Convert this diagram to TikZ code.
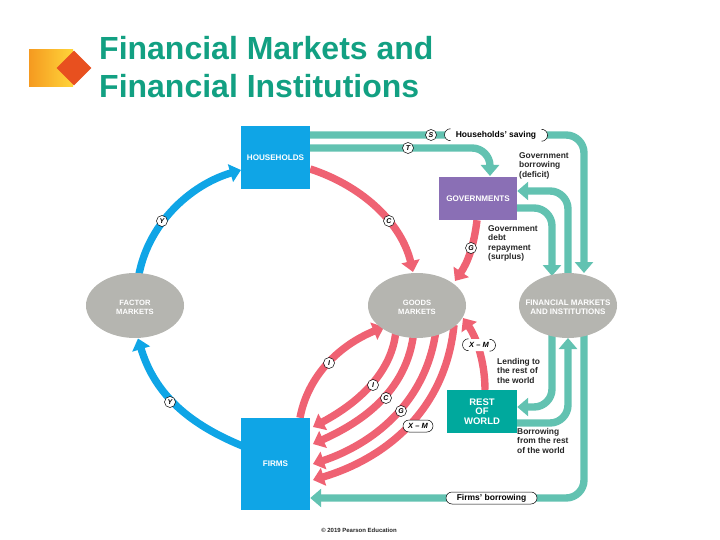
\documentclass[tikz,border=0pt]{standalone}
\usepackage{fontspec}
\setmainfont{Liberation Sans}
\usetikzlibrary{arrows.meta,shapes.geometric,shapes.misc,backgrounds}
\definecolor{tealf}{HTML}{62C2B1}
\definecolor{redf}{HTML}{EF6273}
\definecolor{bluef}{HTML}{0FA5E6}
\definecolor{greyf}{HTML}{B5B5B0}
\definecolor{purpf}{HTML}{8A6FB5}
\definecolor{rowf}{HTML}{00A99D}
\definecolor{titlef}{HTML}{12A082}
\definecolor{logoa}{HTML}{F59A20}
\definecolor{logob}{HTML}{FFD53A}
\definecolor{logoc}{HTML}{E8501F}
\tikzset{
 sector/.style={draw=none,fill=bluef,text=white,font=\bfseries\fontsize{8.1}{9.3}\selectfont,align=center,inner sep=0pt},
 market/.style={ellipse,draw=none,fill=greyf,inner sep=0pt,minimum width=98pt,minimum height=65pt},
 marketname/.style={text=white,font=\bfseries\fontsize{7.6}{9}\selectfont,align=center,inner sep=0pt,yshift=-2pt},
 flow/.style={line width=7.4pt,-{Triangle[width=18pt,length=11pt]}},
 tealflow/.style={flow,draw=tealf,rounded corners=18pt},
 redflow/.style={flow,draw=redf},
 blueflow/.style={flow,draw=bluef},
 tag/.style={circle,draw=black,line width=0.5pt,fill=white,inner sep=0pt,minimum size=11pt,font=\bfseries\itshape\fontsize{7}{7}\selectfont},
 pill/.style={rounded rectangle,draw=black,line width=0.5pt,fill=white,inner sep=0pt,minimum height=12pt,font=\bfseries\fontsize{8.5}{8.5}\selectfont},
 note/.style={anchor=north west,align=left,inner sep=0pt,font=\bfseries\fontsize{8.4}{9.5}\selectfont,text=black!85},
}
\begin{document}
\begin{tikzpicture}[x=1pt,y=-1pt]
\useasboundingbox (0,0) rectangle (720,540);
% logo
\node[draw=none,minimum width=44pt,minimum height=37pt,inner sep=0pt,left color=logoa,right color=logob] (logobox) at (51,68.5) {};
\node[diamond,fill=logoc,minimum width=35pt,minimum height=35pt,inner sep=0pt] (logomark) at (74,68) {};
% title
\node[anchor=north west,align=left,inner sep=0pt,text=titlef,font=\bfseries\fontsize{32}{38.4}\selectfont] (title) at (99,36) {Financial Markets and\\Financial Institutions};
% boxes
\node[sector,minimum width=69pt,minimum height=63pt] (hh) at (275.5,157.5) {HOUSEHOLDS};
\node[sector,minimum width=69pt,minimum height=92pt] (firms) at (275.5,464) {FIRMS};
\node[sector,fill=purpf,minimum width=78pt,minimum height=43pt] (gov) at (478,198.5) {GOVERNMENTS};
\node[sector,fill=rowf,font=\bfseries\fontsize{9.5}{9.4}\selectfont,minimum width=70pt,minimum height=43pt] (row) at (482,411.5) {REST\\OF\\WORLD};
\node[market,label={[marketname]center:FACTOR\\MARKETS}] (factor) at (135,305.5) {};
\node[market,label={[marketname]center:GOODS\\MARKETS}] (goods) at (417,305.5) {};
\node[market,label={[marketname,font=\bfseries\fontsize{8}{9}\selectfont]center:FINANCIAL MARKETS\\AND INSTITUTIONS}] (fin) at (568,305.5) {};
% end points
\coordinate (tipFactor) at (138,338.5);
\coordinate (startFactor) at (138,280);
\coordinate (tipHH) at (241,170);
\coordinate (startFirmsY) at (245,447);
\begin{scope}[on background layer]
 % blue
 \draw[blueflow] (startFactor) .. controls (146,225) and (190,185) .. (tipHH);
 \draw[blueflow] (startFirmsY) .. controls (190,425) and (155,395) .. (tipFactor);
 % household flows
 \coordinate (sEnd) at (584,273);
 \draw[tealflow] (hh.east |- 0,135) -- (584,135) -- (sEnd);
 \draw[tealflow] (hh.east |- 0,148) -- (490,148) -- (490,176);
 \draw[redflow] (hh.east |- 0,169) .. controls (365,187) and (402,225) .. (413,272);
 % government
 \draw[redflow] (gov.south -| 477,0) .. controls (474,245) and (468,262) .. (455,281);
 \draw[tealflow] (fin.north) -- (568,191) -- (gov.east |- 0,191);
 \draw[tealflow] (gov.east |- 0,208) -- (552,208) -- (552,276);
 % firms / goods
 \draw[redflow] (firms.north -| 300,0) .. controls (308,375) and (340,345) .. (384,327);
 \draw[redflow] (396,330) .. controls (392,380) and (345,410) .. (313,427);
 \draw[redflow] (414,330) .. controls (408,395) and (355,425) .. (313,444);
 \draw[redflow] (436,330) .. controls (426,405) and (370,445) .. (313,464);
 \draw[redflow] (454,325) .. controls (445,415) and (380,460) .. (313,480);
 \draw[redflow] (row.north -| 485,0) .. controls (485,365) and (478,340) .. (463,318);
 % row / fin
 \draw[tealflow] (552,330) -- (552,407) -- (row.east |- 0,407);
 \draw[tealflow] (row.east |- 0,423) -- (568,423) -- (568,338);
 \draw[tealflow] (584,330) -- (584,498) -- (firms.east |- 0,498);
\end{scope}
% labels
\node[tag] (ly1) at (162,221) {Y};
\node[tag] (ly2) at (170,402) {Y};
\node[tag] (lc1) at (389,221) {C};
\node[tag] (lg1) at (471,248) {G};
\node[tag] (ls) at (431,135) {S};
\node[tag] (lt) at (408,148) {T};
\node[tag] (li1) at (329,363) {I};
\node[tag] (li2) at (373,385) {I};
\node[tag] (lc2) at (386,398) {C};
\node[tag] (lg2) at (401,411) {G};
\node[pill,minimum width=30pt,font=\bfseries\itshape\fontsize{7.5}{8}\selectfont] (xm1) at (418,426) {X – M};
\node[pill,minimum width=33pt,draw=none,font=\bfseries\itshape\fontsize{7.5}{8}\selectfont] (xm2) at (479,345) {X – M};
\draw[line width=0.5pt] (xm2.north west) arc[start angle=90,end angle=270,radius=6pt];
\draw[line width=0.5pt] (xm2.south east) arc[start angle=-90,end angle=90,radius=6pt];
\node[pill,minimum width=103pt,draw=none] (saving) at (496,135) {Households’ saving};
\draw[line width=0.5pt] (saving.north west) arc[start angle=90,end angle=270,radius=6pt];
\draw[line width=0.5pt] (saving.south east) arc[start angle=-90,end angle=90,radius=6pt];
\node[pill,minimum width=91pt] (fborrow) at (491.5,498) {Firms’ borrowing};
\node[note] (n1) at (519,152) {Government\\borrowing\\(deficit)};
\node[note] (n2) at (488,225) {Government\\debt\\repayment\\(surplus)};
\node[note] (n3) at (497,358) {Lending to\\the rest of\\the world};
\node[note] (n4) at (517,428) {Borrowing\\from the rest\\of the world};
\node[inner sep=0pt,font=\bfseries\fontsize{6}{7}\selectfont,text=black!85] (copy) at (359,530) {© 2019 Pearson Education};
\end{tikzpicture}
\end{document}
